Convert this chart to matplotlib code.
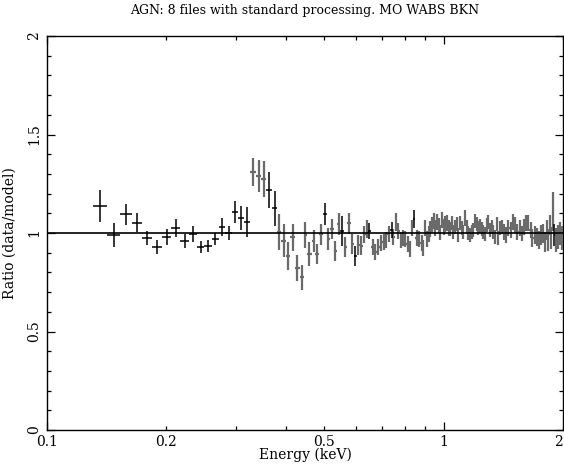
import numpy as np
import matplotlib
matplotlib.use("Agg")
import matplotlib.pyplot as plt
from matplotlib.ticker import FixedLocator, NullFormatter, MultipleLocator

# ---- data ----
energy = [0.1359, 0.1475, 0.1578, 0.1682, 0.1788, 0.1899, 0.2007, 0.2111, 0.2225, 0.2334,
          0.2440, 0.2546, 0.2658, 0.2762, 0.2871, 0.2985, 0.3090, 0.3199,
          0.3305, 0.3415, 0.3522, 0.3619, 0.3747, 0.3842, 0.3955, 0.4048, 0.4167, 0.4275,
          0.4390, 0.4485, 0.4590, 0.4706, 0.4800, 0.4912, 0.5025, 0.5123, 0.5234, 0.5335,
          0.5438, 0.5546, 0.5653, 0.5776, 0.5878, 0.5991, 0.6096, 0.6204, 0.6313, 0.6397,
          0.6498, 0.6624, 0.6728, 0.6846, 0.6954, 0.7060, 0.7158, 0.7267, 0.7394, 0.7467,
          0.7585, 0.7686, 0.7808, 0.7913, 0.8005, 0.8113, 0.8226, 0.8321, 0.8433, 0.8547,
          0.8681, 0.8797, 0.8885, 0.8988, 0.9078, 0.9162, 0.9253, 0.9344, 0.9431, 0.9525,
          0.9619, 0.9708, 0.9806, 0.9902, 0.9995, 1.009, 1.019, 1.029, 1.037, 1.047,
          1.059, 1.070, 1.080, 1.090, 1.101, 1.112, 1.122, 1.133, 1.144, 1.155,
          1.166, 1.179, 1.189, 1.201, 1.213, 1.224, 1.236, 1.248, 1.260, 1.273,
          1.285, 1.297, 1.310, 1.323, 1.335, 1.349, 1.362, 1.375, 1.388, 1.402,
          1.421, 1.440, 1.457, 1.477, 1.497, 1.514, 1.535, 1.556, 1.574, 1.595,
          1.617, 1.635, 1.658, 1.674, 1.700, 1.723, 1.740, 1.763, 1.781, 1.802,
          1.820, 1.837, 1.852, 1.869, 1.887, 1.901, 1.923, 1.946, 1.966, 1.985]

ratio = [1.137, 0.990, 1.095, 1.052, 0.973, 0.930, 0.978, 1.027, 0.959, 0.995,
         0.930, 0.934, 0.970, 1.029, 0.998, 1.105, 1.075, 1.057,
         1.311, 1.289, 1.273, 1.218, 1.125, 1.004, 0.961, 0.883, 0.978, 0.821,
         0.775, 0.990, 0.893, 0.961, 0.893, 0.993, 1.095, 0.968, 1.019, 0.909,
         1.044, 1.010, 0.930, 1.049, 0.943, 0.883, 0.939, 0.936, 0.993, 1.020,
         1.010, 0.930, 0.905, 0.930, 0.948, 0.956, 0.964, 0.993, 1.015, 0.981,
         1.057, 1.010, 0.964, 0.976, 0.970, 0.943, 0.919, 1.024, 1.071, 0.976,
         0.970, 0.948, 0.922, 1.027, 0.968, 0.993, 1.019, 1.041, 1.062, 1.024,
         1.057, 1.036, 1.002, 1.066, 1.032, 1.044, 1.052, 1.024, 1.020, 1.049,
         1.004, 1.032, 1.044, 0.990, 1.049, 1.024, 1.004, 1.078, 1.032, 0.998,
         0.990, 1.004, 1.015, 1.061, 1.044, 1.024, 1.037, 1.019, 1.007, 0.993,
         1.041, 1.057, 1.015, 1.032, 1.004, 0.981, 1.044, 0.973, 1.024, 1.032,
         1.007, 0.990, 1.024, 1.015, 1.057, 1.041, 1.007, 1.024, 0.998, 1.032,
         1.052, 1.049, 1.015, 0.973, 0.990, 0.981, 0.964, 0.990, 0.998, 0.956,
         1.015, 0.964, 1.041, 0.973, 1.108, 0.990, 0.964, 0.981, 0.998, 0.973]

ratio_err = [0.080, 0.060, 0.053, 0.048, 0.035, 0.035, 0.040, 0.045, 0.035, 0.040,
             0.030, 0.030, 0.030, 0.045, 0.035, 0.055, 0.060, 0.075,
             0.070, 0.080, 0.090, 0.090, 0.090, 0.090, 0.085, 0.070, 0.070, 0.065,
             0.062, 0.065, 0.060, 0.055, 0.050, 0.055, 0.055, 0.055, 0.050, 0.050,
             0.055, 0.075, 0.050, 0.055, 0.050, 0.050, 0.050, 0.050, 0.045, 0.045,
             0.040, 0.040, 0.040, 0.040, 0.040, 0.040, 0.040, 0.040, 0.040, 0.040,
             0.045, 0.040, 0.040, 0.040, 0.040, 0.040, 0.040, 0.040, 0.045, 0.040,
             0.040, 0.040, 0.040, 0.040, 0.040, 0.040, 0.040, 0.040, 0.040, 0.040,
             0.040, 0.040, 0.040, 0.040, 0.040, 0.040, 0.040, 0.040, 0.035, 0.035,
             0.035, 0.035, 0.035, 0.035, 0.035, 0.035, 0.035, 0.040, 0.035, 0.035,
             0.035, 0.035, 0.035, 0.035, 0.035, 0.035, 0.035, 0.035, 0.035, 0.035,
             0.035, 0.035, 0.035, 0.035, 0.035, 0.035, 0.035, 0.035, 0.035, 0.035,
             0.040, 0.040, 0.040, 0.040, 0.040, 0.040, 0.040, 0.040, 0.040, 0.040,
             0.040, 0.040, 0.040, 0.045, 0.045, 0.045, 0.045, 0.050, 0.050, 0.050,
             0.050, 0.055, 0.050, 0.055, 0.100, 0.055, 0.060, 0.060, 0.060, 0.060]

# energy bin edges for the low-energy (wide) bins
bin_lo = [0.1307, 0.1413, 0.1526, 0.1634, 0.1738, 0.1845, 0.1955, 0.2060, 0.2170, 0.2280,
          0.2388, 0.2494, 0.2603, 0.2710, 0.2817, 0.2928, 0.3038, 0.3145]
bin_hi = [0.1413, 0.1526, 0.1634, 0.1738, 0.1845, 0.1955, 0.2060, 0.2170, 0.2280, 0.2388,
          0.2494, 0.2603, 0.2710, 0.2817, 0.2928, 0.3038, 0.3145, 0.3252]

# file flag: 0 = black, 1 = grey
file_flag = [0]*18 + [1, 1, 1, 0, 0, 1, 1, 1, 1, 1, 1, 1, 1, 1, 1, 1, 0, 1, 1, 1,
                      1, 0, 1, 1, 1, 0, 1, 1, 1, 1, 0, 1, 1, 1, 1, 1, 1, 1, 0, 1]
file_flag += [1] * (len(energy) - len(file_flag))
file_flag[143] = 0  # black outlier near 1.9 keV
file_flag[66] = 0

title = "AGN: 8 files with standard processing. MO WABS BKN"
xlabel = "Energy (keV)"
ylabel = "Ratio (data/model)"
xtick_vals = [0.1, 0.2, 0.5, 1, 2]
xtick_labels = ["0.1", "0.2", "0.5", "1", "2"]
ytick_vals = [0, 0.5, 1, 1.5, 2]
ytick_labels = ["0", "0.5", "1", "1.5", "2"]

# ---- plot ----
plt.rcParams['font.family'] = ['DejaVu Serif']
fig = plt.figure(figsize=(5.64, 4.66), dpi=100)
ax = fig.add_axes([47/564, 1 - 430/466, 516/564, 394/466])

E = np.array(energy)
R = np.array(ratio)
RE = np.array(ratio_err)
F = np.array(file_flag)

# x half-widths: explicit edges for wide bins, neighbour spacing for the dense part
xlo = np.empty_like(E)
xhi = np.empty_like(E)
n0 = len(bin_lo)
xlo[:n0] = E[:n0] - np.array(bin_lo)
xhi[:n0] = np.array(bin_hi) - E[:n0]
logE = np.log10(E)
mid = 10 ** ((logE[1:] + logE[:-1]) / 2)
for i in range(n0, len(E)):
    lo_edge = mid[i - 1]
    hi_edge = mid[i] if i < len(E) - 1 else E[i] * (E[i] / mid[i - 1])
    xlo[i] = E[i] - lo_edge
    xhi[i] = hi_edge - E[i]

for flag, col, lw in [(1, '#6a6a6a', 1.6), (0, 'black', 1.1)]:
    m = F == flag
    ax.errorbar(E[m], R[m], yerr=RE[m], xerr=[xlo[m], xhi[m]], fmt='none',
                ecolor=col, elinewidth=lw, capsize=0, zorder=3)

ax.axhline(1.0, color='black', lw=1.2, zorder=4)

ax.set_xscale('log')
ax.set_xlim(0.1, 2)
ax.set_ylim(0, 2)

ax.xaxis.set_major_locator(FixedLocator([0.1, 1]))
ax.xaxis.set_minor_locator(FixedLocator([0.2, 0.3, 0.4, 0.5, 0.6, 0.7, 0.8, 0.9, 2]))
ax.xaxis.set_major_formatter(NullFormatter())
ax.xaxis.set_minor_formatter(NullFormatter())
for v, s in zip(xtick_vals, xtick_labels):
    ax.text(v, -0.012, s, transform=ax.get_xaxis_transform(),
            ha='center' if v < 2 else 'right', va='top', fontsize=10)

ax.yaxis.set_major_locator(FixedLocator(ytick_vals))
ax.yaxis.set_minor_locator(MultipleLocator(0.1))
ax.set_yticklabels(ytick_labels, rotation=90, va='center', fontsize=10)

ax.tick_params(which='both', direction='in', top=True, right=True, width=0.9)
ax.tick_params(which='major', length=6)
ax.tick_params(which='minor', length=3)
ax.tick_params(axis='y', pad=4)

for s in ax.spines.values():
    s.set_linewidth(1.0)

fig.text((47 + 563) / 2 / 564, 1 - 455 / 466, xlabel, ha='center', va='center', fontsize=10)
ax.set_ylabel(ylabel, fontsize=10, labelpad=8)
ax.set_title(title, fontsize=9, pad=16)

fig.savefig("out.png", dpi=100)
